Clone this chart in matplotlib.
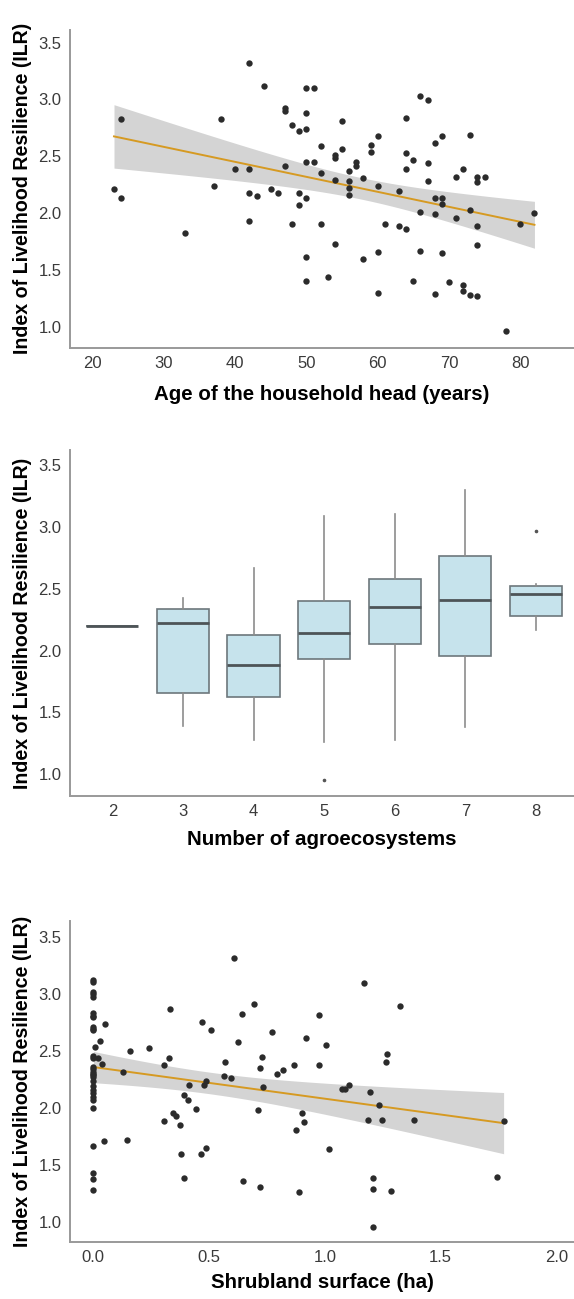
import numpy as np
import matplotlib
matplotlib.use("Agg")
import matplotlib.pyplot as plt

plt.rcParams['font.family'] = ['Liberation Sans', 'DejaVu Sans']

# ---- panel 1: age of household head vs ILR ----
age = [23, 24, 24, 33, 37, 38, 40, 42, 42, 42, 42, 43, 44, 45, 46, 47, 47, 47, 48, 48,
       49, 49, 49, 50, 50, 50, 50, 50, 50, 50, 51, 51, 52, 52, 52, 53, 54, 54, 54, 54,
       55, 55, 56, 56, 56, 56, 57, 57, 58, 58, 59, 59, 60, 60, 60, 60, 61, 63, 63, 64,
       64, 64, 64, 65, 65, 66, 66, 66, 67, 67, 67, 68, 68, 68, 68, 69, 69, 69, 69, 70,
       71, 71, 72, 72, 72, 73, 73, 73, 74, 74, 74, 74, 74, 75, 78, 80, 82]
ilr_age = [2.21, 2.83, 2.13, 1.82, 2.24, 2.83, 2.39, 3.32, 2.39, 2.18, 1.93, 2.15, 3.12, 2.21, 2.18, 2.92, 2.90, 2.41, 2.77, 1.90,
           2.72, 2.18, 2.07, 3.10, 2.88, 2.74, 2.45, 2.13, 1.61, 1.40, 3.10, 2.45, 2.59, 2.35, 1.90, 1.44, 2.51, 2.48, 2.29, 1.73,
           2.81, 2.56, 2.37, 2.28, 2.22, 2.16, 2.45, 2.41, 2.31, 1.60, 2.60, 2.54, 2.68, 2.24, 1.66, 1.30, 1.90, 2.19, 1.89, 2.84,
           2.53, 2.39, 1.86, 2.47, 1.40, 3.03, 2.01, 1.67, 2.99, 2.44, 2.28, 2.62, 2.13, 1.99, 1.29, 2.68, 2.13, 2.08, 1.65, 1.39,
           2.32, 1.96, 2.39, 1.37, 1.31, 2.69, 2.03, 1.28, 2.32, 2.27, 1.89, 1.72, 1.27, 2.32, 0.96, 1.90, 2.00]

# ---- panel 2: number of agroecosystems (box stats) ----
n_agro = [2, 3, 4, 5, 6, 7, 8]
box_med = [2.20, 2.223, 1.886, 2.142, 2.350, 2.409, 2.460]
box_q1 = [2.20, 1.657, 1.622, 1.935, 2.053, 1.953, 2.279]
box_q3 = [2.20, 2.336, 2.123, 2.404, 2.581, 2.762, 2.524]
box_lo = [2.20, 1.393, 1.278, 1.259, 1.277, 1.380, 2.166]
box_hi = [2.20, 2.428, 2.670, 3.085, 3.101, 3.298, 2.536]
box_out = [[], [], [], [0.952], [], [], [2.969]]

# ---- panel 3: shrubland surface vs ILR ----
shrub = [0.0] * 30 + [
    0.008, 0.02, 0.028, 0.036, 0.051, 0.046, 0.126, 0.145, 0.158, 0.239,
    0.305, 0.307, 0.326, 0.330, 0.346, 0.356, 0.373, 0.378, 0.392, 0.392,
    0.408, 0.413, 0.444, 0.466, 0.471, 0.479, 0.485, 0.485, 0.509, 0.563,
    0.568, 0.596, 0.607, 0.625, 0.642, 0.645, 0.694, 0.713, 0.718, 0.719,
    0.729, 0.734, 0.772, 0.794, 0.817, 0.866, 0.876, 0.890, 0.901, 0.908,
    0.920, 0.976, 0.974, 1.006, 1.017, 1.072, 1.086, 1.104, 1.167, 1.186,
    1.194, 1.209, 1.209, 1.209, 1.235, 1.246, 1.265, 1.270, 1.285, 1.323,
    1.385, 1.742, 1.772]
ilr_shrub = [3.12, 3.10, 3.02, 3.00, 2.97, 2.83, 2.81, 2.80, 2.71, 2.69,
             2.68, 2.46, 2.44, 2.36, 2.34, 2.32, 2.30, 2.29, 2.27, 2.24,
             2.19, 2.16, 2.13, 2.10, 2.07, 2.00, 1.67, 1.43, 1.38, 1.28] + [
    2.537, 2.435, 2.587, 2.386, 2.736, 1.715, 2.313, 1.720, 2.502, 2.523,
    1.884, 2.374, 2.438, 2.870, 1.954, 1.931, 1.852, 1.595, 2.117, 1.388,
    2.071, 2.205, 1.995, 1.601, 2.756, 2.205, 2.234, 1.653, 2.683, 2.278,
    2.403, 2.260, 3.310, 2.581, 2.820, 1.365, 2.914, 1.980, 2.354, 1.306,
    2.450, 2.187, 2.666, 2.298, 2.333, 2.374, 1.808, 1.262, 1.954, 1.878,
    2.616, 2.817, 2.374, 2.549, 1.639, 2.170, 2.170, 2.199, 3.095, 1.898,
    2.144, 1.391, 1.289, 0.956, 2.027, 1.893, 2.400, 2.476, 1.274, 2.890,
    1.893, 1.394, 1.890]

PT_COLOR = '#2b2b2b'
LINE_COLOR = '#d69a22'
BAND_COLOR = '#d4d4d4'
SPINE_COLOR = '#999999'
TICK_COLOR = '#3a3a3a'
YLABEL = 'Index of Livelihood Resilience (ILR)'


def fit_band(x, y, xs):
    # OLS fit with 95% confidence band of the mean
    x = np.asarray(x, float)
    y = np.asarray(y, float)
    n = len(x)
    b, a = np.polyfit(x, y, 1)
    resid = y - (a + b * x)
    s = np.sqrt(np.sum(resid ** 2) / (n - 2))
    se = s * np.sqrt(1 / n + (xs - x.mean()) ** 2 / np.sum((x - x.mean()) ** 2))
    yhat = a + b * xs
    return yhat, yhat - 1.984 * se, yhat + 1.984 * se


def style_axes(ax, xlabel, xlab_y):
    for side in ['top', 'right']:
        ax.spines[side].set_visible(False)
    for side in ['left', 'bottom']:
        ax.spines[side].set_color(SPINE_COLOR)
        ax.spines[side].set_linewidth(1.4)
    ax.tick_params(length=0, labelsize=12, colors=TICK_COLOR, pad=6)
    ax.tick_params(axis='y', pad=6)
    ax.set_yticks([1.0, 1.5, 2.0, 2.5, 3.0, 3.5])
    ax.set_yticklabels(['1.0', '1.5', '2.0', '2.5', '3.0', '3.5'])
    ax.set_ylabel(YLABEL, fontsize=14.1, fontweight='bold', va='center')
    ax.yaxis.set_label_coords(-0.094, 0.5)
    ax.set_xlabel(xlabel, fontsize=14.8, fontweight='bold', va='center')
    ax.xaxis.set_label_coords(0.5, xlab_y)


def scatter_panel(ax, x, y):
    xs = np.linspace(min(x), max(x), 100)
    yhat, lo, hi = fit_band(x, y, xs)
    ax.fill_between(xs, lo, hi, color=BAND_COLOR, lw=0, zorder=1)
    ax.plot(xs, yhat, color=LINE_COLOR, lw=1.4, zorder=2)
    ax.scatter(x, y, s=21, color=PT_COLOR, lw=0, zorder=3)


fig = plt.figure(figsize=(5.74, 12.99), dpi=100)

# panel 1
ax1 = fig.add_axes([0.122, 0.7323, 0.878, 0.2446])
scatter_panel(ax1, age, ilr_age)
ax1.set_xlim(16.83, 87.55)
ax1.set_ylim(0.815, 3.61)
ax1.set_xticks([20, 30, 40, 50, 60, 70, 80])
style_axes(ax1, 'Age of the household head (years)', -0.146)

# panel 2
ax2 = fig.add_axes([0.122, 0.3872, 0.878, 0.2664])
stats = []
for i in range(len(n_agro)):
    stats.append({'med': box_med[i], 'q1': box_q1[i], 'q3': box_q3[i],
                  'whislo': box_lo[i], 'whishi': box_hi[i], 'fliers': box_out[i]})
ax2.bxp(stats, positions=n_agro, widths=0.74, patch_artist=True, showcaps=False,
        boxprops=dict(facecolor='#c6e3ec', edgecolor='#6d777c', linewidth=1.2),
        medianprops=dict(color='#4d5457', linewidth=2.0),
        whiskerprops=dict(color='#8c8c8c', linewidth=1.2),
        flierprops=dict(marker='o', markersize=1.6, markerfacecolor='#555555',
                        markeredgecolor='#555555'))
ax2.set_xlim(1.4, 8.54)
ax2.set_ylim(0.825, 3.62)
ax2.set_xticks(n_agro)
ax2.set_xticklabels([str(v) for v in n_agro])
style_axes(ax2, 'Number of agroecosystems', -0.125)

# panel 3
ax3 = fig.add_axes([0.122, 0.0441, 0.878, 0.2471])
scatter_panel(ax3, shrub, ilr_shrub)
ax3.set_xlim(-0.1007, 2.076)
ax3.set_ylim(0.83, 3.64)
ax3.set_xticks([0.0, 0.5, 1.0, 1.5, 2.0])
ax3.set_xticklabels(['0.0', '0.5', '1.0', '1.5', '2.0'])
style_axes(ax3, 'Shrubland surface (ha)', -0.128)

fig.savefig('out.png', dpi=100)
